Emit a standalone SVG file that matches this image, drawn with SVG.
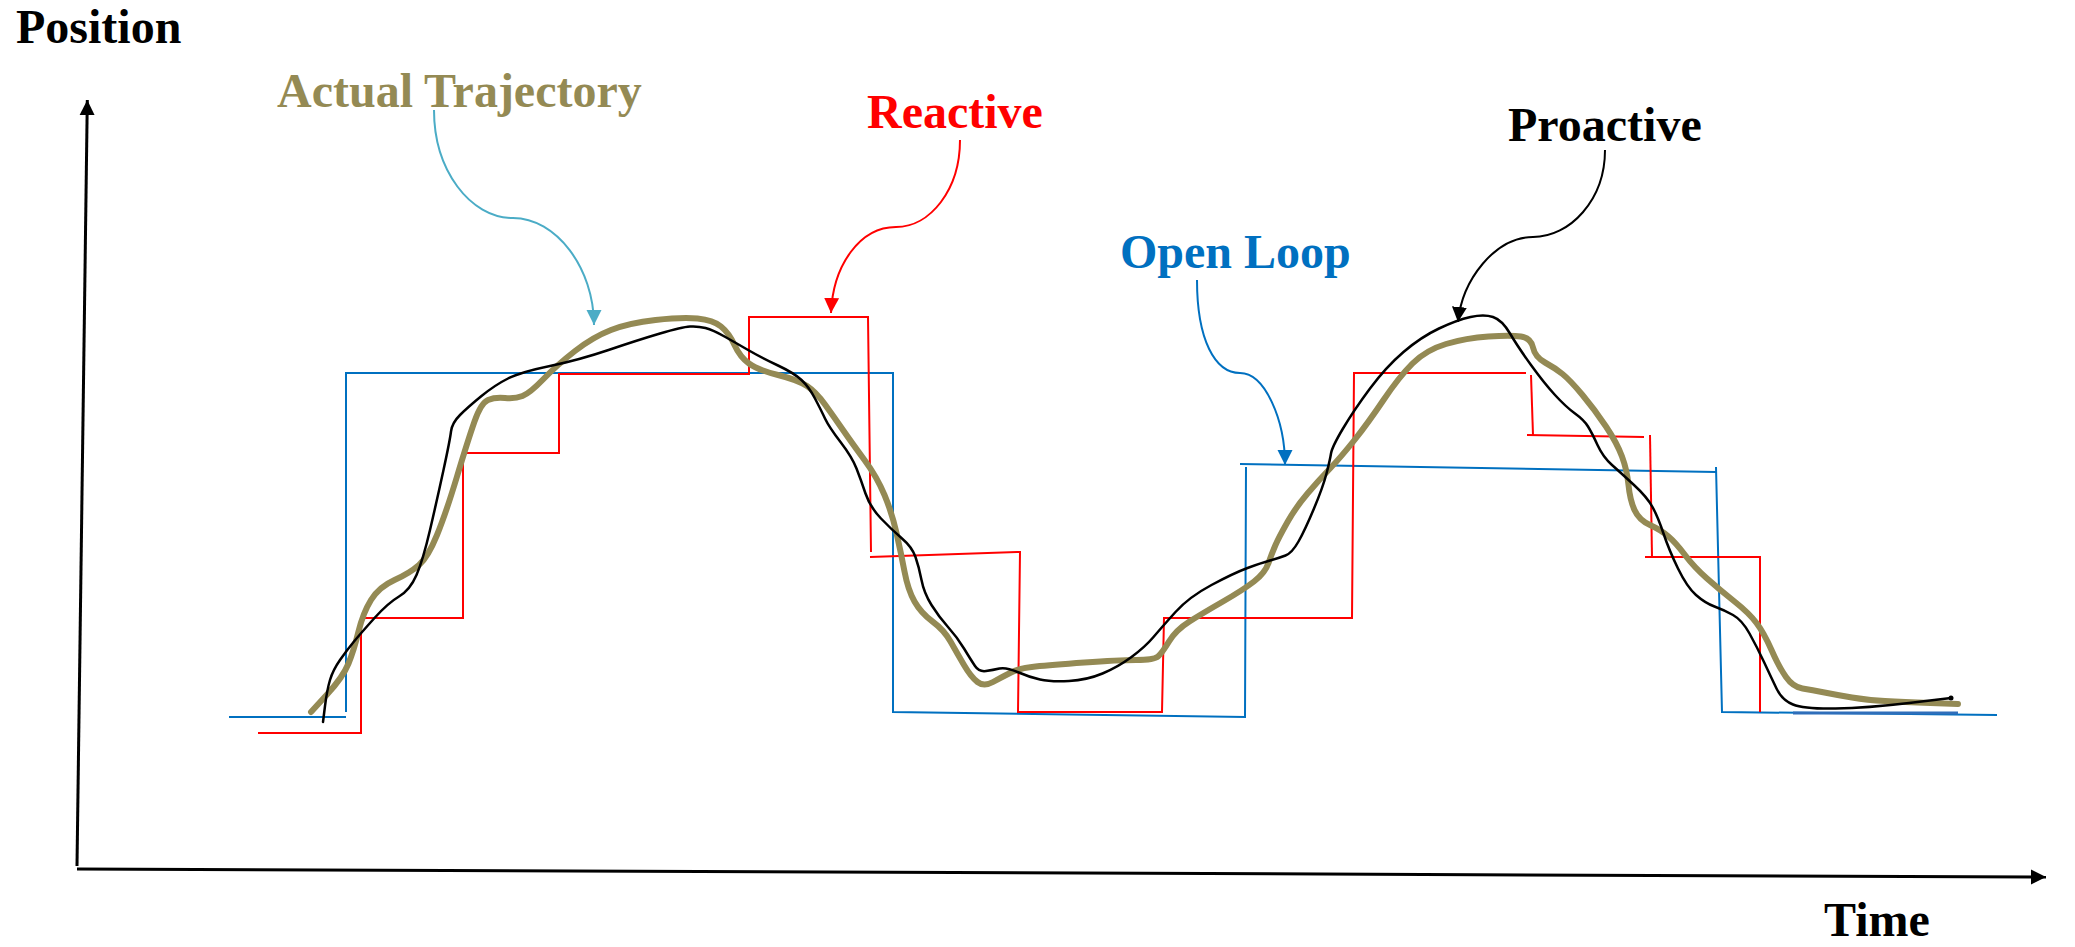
<svg xmlns="http://www.w3.org/2000/svg" width="2075" height="947" viewBox="0 0 2075 947">
  <style>
    .lbl { font-family: "Liberation Serif", "Times New Roman", serif; font-weight: bold; font-size: 48px; }
    .axis { fill: none; stroke: #000; stroke-width: 3; }
    .open { fill: none; stroke: #0070C0; stroke-width: 2; stroke-linejoin: miter; }
    .react { fill: none; stroke: #FF0000; stroke-width: 2; stroke-linejoin: miter; }
    .actual { fill: none; stroke: #948A54; stroke-width: 6; stroke-linecap: round; stroke-linejoin: round; }
    .pro { fill: none; stroke: #000; stroke-width: 2.5; stroke-linecap: round; stroke-linejoin: round; }
    .call { fill: none; stroke-width: 2; }
  </style>
  <defs>
    <marker id="ah-black" viewBox="0 0 16 16" refX="15" refY="8" markerWidth="16" markerHeight="16" markerUnits="userSpaceOnUse" orient="auto">
      <path d="M0,0.5 L15,8 L0,15.5 z" fill="#000"/>
    </marker>
    <marker id="ah-teal" viewBox="0 0 16 16" refX="15" refY="8" markerWidth="16" markerHeight="16" markerUnits="userSpaceOnUse" orient="auto">
      <path d="M0,0.5 L15,8 L0,15.5 z" fill="#4BACC6"/>
    </marker>
    <marker id="ah-red" viewBox="0 0 16 16" refX="15" refY="8" markerWidth="16" markerHeight="16" markerUnits="userSpaceOnUse" orient="auto">
      <path d="M0,0.5 L15,8 L0,15.5 z" fill="#FF0000"/>
    </marker>
    <marker id="ah-blue" viewBox="0 0 16 16" refX="15" refY="8" markerWidth="16" markerHeight="16" markerUnits="userSpaceOnUse" orient="auto">
      <path d="M0,0.5 L15,8 L0,15.5 z" fill="#0070C0"/>
    </marker>
  </defs>

  <rect width="2075" height="947" fill="#fff"/>

  <!-- axes -->
  <g id="axes">
    <path class="axis" d="M77,866 L87.3,100" stroke-width="2.5" marker-end="url(#ah-black)"/>
    <path class="axis" d="M77,869 L2046,877" marker-end="url(#ah-black)"/>
    <text class="lbl" x="16" y="43" fill="#000">Position</text>
    <text class="lbl" x="1824" y="936" fill="#000">Time</text>
  </g>

  <!-- open loop command: coarse steps -->
  <g id="open-loop-steps">
    <path class="open" d="M229,717 L346,717"/>
    <path class="open" d="M346,712 L346,373 L893,373 L893,712 L1245,717 L1246,467"/>
    <path class="open" d="M1240,464 L1716,472"/>
    <path class="open" d="M1716,467 L1722,712 L1997,715"/>
    <path d="M1793,713 L1958,713" stroke="#2F6EBA" stroke-width="3"/>
  </g>

  <!-- reactive command: lagging steps -->
  <g id="reactive-steps">
    <path class="react" d="M258,733 L361,733 L361,618 L463,618 L463,453 L559,453 L559,374 L749,374 L749,317 L868,317 L871,552"/>
    <path class="react" d="M870,557 L1017,552 L1020,552 L1018,712 L1162,712 L1164,618 L1352,618 L1354,373 L1526,373"/>
    <path class="react" d="M1531,375 L1533,435"/>
    <path class="react" d="M1527,435 L1644,437"/>
    <path class="react" d="M1650,435 L1652,557"/>
    <path class="react" d="M1645,557 L1760,557 L1760,712"/>
  </g>

  <!-- actual trajectory -->
  <g id="actual-trajectory">
    <path class="actual" d="M311,712 L327,694.5 Q343,677 348.5,663.5 Q354,650 358.5,631.5 Q363,613 371,600 Q379,587 394.5,580 Q410,573 419,565 Q428,557 437,535 Q446,513 457,476.5 Q468,440 474.5,421.5 Q481,403 488,400 Q495,397 505,398 Q515,399 522.5,396 Q530,393 543.5,379 Q557,365 575,351 Q593,337 611,330 Q629,323 655.5,320 Q682,317 697.5,318.5 Q713,320 721,326.5 Q729,333 734.5,345 Q740,357 749,363.5 Q758,370 778,375 Q798,380 807,386 Q816,392 825,404.5 Q834,417 843,430 Q852,443 864.5,460 Q877,477 884.5,495 Q892,513 896.5,533 Q901,553 904.5,571.5 Q908,590 914.5,601.5 Q921,613 932.5,621.5 Q944,630 950.5,641.5 Q957,653 964,665 Q971,677 977.5,682 Q984,687 993,682 Q1002,677 1011,672.5 Q1020,668 1035.5,666.5 Q1051,665 1084.5,662.5 Q1118,660 1136,660 Q1154,660 1158,656.5 Q1162,653 1169,641.5 Q1176,630 1189.5,621.5 Q1203,613 1223,601.5 Q1243,590 1254,581.5 Q1265,573 1268.5,563 Q1272,553 1275.5,545 Q1279,537 1287.5,522 Q1296,507 1307.5,493.5 Q1319,480 1330,468.5 Q1341,457 1354.5,440 Q1368,423 1383.5,400 Q1399,377 1412.5,363.5 Q1426,350 1446,344 Q1466,338 1488.5,336.5 Q1511,335 1521,336.5 Q1531,338 1533,347.5 Q1535,357 1545,362.5 Q1555,368 1562.5,374 Q1570,380 1582.5,395 Q1595,410 1606,426.5 Q1617,443 1622,456.5 Q1627,470 1628.5,485 Q1630,500 1634.5,510 Q1639,520 1650,525 Q1661,530 1668.5,536.5 Q1676,543 1685,555 Q1694,567 1707,578.5 Q1720,590 1734.5,601.5 Q1749,613 1756.5,623 Q1764,633 1771.5,650 Q1779,667 1786,677 Q1793,687 1802.5,688.5 Q1812,690 1824.5,692.5 Q1837,695 1852,697.5 Q1867,700 1885,701 Q1903,702 1930.5,703 L1958,704"/>
  </g>

  <!-- proactive trajectory -->
  <g id="proactive-trajectory">
    <path class="pro" d="M323,722 L325,706 Q327,690 330,680 Q333,670 340,660 Q347,650 354,641.5 Q361,633 374.5,618 Q388,603 399,596.5 Q410,590 416.5,575 Q423,560 430,530 Q437,500 443.5,470 Q450,440 451,431.5 Q452,423 460,415 Q468,407 481.5,396 Q495,385 508,378.5 Q521,372 550,366 Q579,360 608.5,350 Q638,340 660,333.5 Q682,327 690,326.5 Q698,326 705.5,328 Q713,330 724.5,336.5 Q736,343 749,350.5 Q762,358 778,365.5 Q794,373 801.5,380 Q809,387 815,398.5 Q821,410 825,418.5 Q829,427 840.5,442 Q852,457 856.5,468.5 Q861,480 865.5,493.5 Q870,507 881,518.5 Q892,530 902,538.5 Q912,547 915.5,557 Q919,567 921.5,580 Q924,593 931.5,605 Q939,617 948,627 Q957,637 964,648.5 Q971,660 975,666 Q979,672 986,671 Q993,670 999.5,668.5 Q1006,667 1017.5,672 Q1029,677 1040,679.5 Q1051,682 1069,681 Q1087,680 1102.5,673.5 Q1118,667 1131.5,657 Q1145,647 1153.5,637 Q1162,627 1175.5,612 Q1189,597 1211.5,585 Q1234,573 1247.5,568 Q1261,563 1270,560.5 Q1279,558 1285.5,555.5 Q1292,553 1298.5,541.5 Q1305,530 1314,508.5 Q1323,487 1326.5,473.5 Q1330,460 1331,453.5 Q1332,447 1343,428.5 Q1354,410 1370,388.5 Q1386,367 1403.5,352 Q1421,337 1439,328.5 Q1457,320 1470.5,317 Q1484,314 1493,317 Q1502,320 1510,333.5 Q1518,347 1531,365 Q1544,383 1555,395 Q1566,407 1575,413.5 Q1584,420 1588,426.5 Q1592,433 1597.5,445 Q1603,457 1612,465 Q1621,473 1634,485 Q1647,497 1652.5,507 Q1658,517 1663.5,533.5 Q1669,550 1678,568.5 Q1687,587 1696,595 Q1705,603 1714.5,606.5 Q1724,610 1733,615 Q1742,620 1749.5,633.5 Q1757,647 1764,662 Q1771,677 1776.5,688.5 Q1782,700 1793,704.5 Q1804,709 1835.5,708.5 Q1867,708 1909,703 L1951,698"/>
    <circle cx="1951" cy="698" r="2.5" fill="#000"/>
  </g>

  <!-- labels -->
  <g id="label-actual">
    <text class="lbl" x="277" y="107" fill="#948A54">Actual Trajectory</text>
  </g>
  <g id="label-reactive">
    <text class="lbl" x="867" y="128" fill="#FF0000">Reactive</text>
  </g>
  <g id="label-open-loop">
    <text class="lbl" x="1120" y="268" fill="#0070C0">Open Loop</text>
  </g>
  <g id="label-proactive">
    <text class="lbl" x="1508" y="141" fill="#000">Proactive</text>
  </g>

  <!-- callout connectors -->
  <g id="connectors">
    <path class="call" stroke="#4BACC6" d="M434,110 C434,170 470,218 513,218 C556,218 594,268 594,325" marker-end="url(#ah-teal)"/>
    <path class="call" stroke="#FF0000" d="M960,140 C960,190 930,227 896,227 C860,227 833,265 831,313" marker-end="url(#ah-red)"/>
    <path class="call" stroke="#0070C0" d="M1197,280 C1197,340 1215,373 1240,373 C1265,373 1285,420 1285,465" marker-end="url(#ah-blue)"/>
    <path class="call" stroke="#000" d="M1605,150 C1605,200 1570,237 1533,237 C1495,237 1462,280 1458,322" marker-end="url(#ah-black)"/>
  </g>
</svg>
